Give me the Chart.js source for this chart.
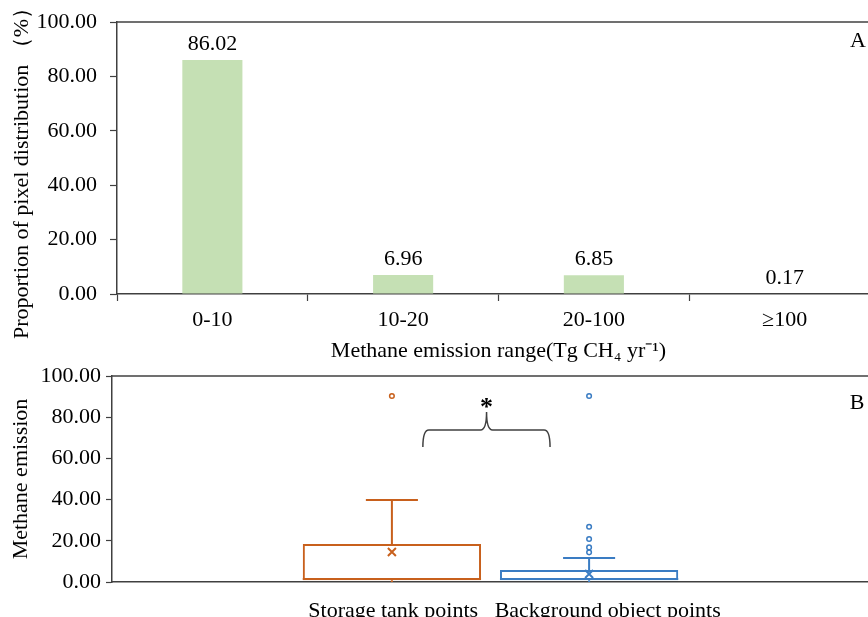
<!DOCTYPE html>
<html>
<head>
<meta charset="utf-8">
<script src="https://cdn.jsdelivr.net/npm/chart.js@4.4.1/dist/chart.umd.min.js"></script>
<style>
  html, body { margin: 0; padding: 0; background: #fff; overflow: hidden; width: 868px; height: 617px; }
  #wrapA { position: absolute; left: 0; top: 0; }
  #wrapB { position: absolute; left: 0; top: 362px; }
</style>
</head>
<body>
<div id="wrapA"><canvas id="chartA" width="881" height="364" style="width:881px;height:364px"></canvas></div>
<div id="wrapB"><canvas id="chartB" width="870" height="255" style="width:870px;height:255px"></canvas></div>
<script>
// panel A: share of pixels per emission range
const rangeLabels = ['0-10', '10-20', '20-100', '≥100'];
const pixelShare = [86.02, 6.96, 6.85, 0.17];

// panel B: box plot summaries
const groupNames = ['Storage tank points', 'Background object points'];
const whiskerLow = [0, 0];
const boxQ1 = [0.8, 0.8];
const boxMedian = [1.5, 1.5];
const boxQ3 = [18.4, 5.8];
const whiskerHigh = [39.8, 11.7];
const boxMean = [14.6, 3.9];
const outliers = [[90.3], [90.3, 26.8, 20.9, 16.8, 14.4]];
const boxColors = ['#c8601c', '#3a7cc3'];

const SERIF = '"Liberation Serif", "Times New Roman", serif';
const AXIS = '#404040';
Chart.defaults.font.family = SERIF;
Chart.defaults.color = '#000';

const frameTop = {
  id: 'frameTop',
  afterDraw(chart) {
    const { ctx, chartArea: a } = chart;
    ctx.save();
    ctx.strokeStyle = AXIS;
    ctx.lineWidth = 1.5;
    ctx.beginPath();
    ctx.moveTo(a.left, a.top);
    ctx.lineTo(a.right, a.top);
    ctx.stroke();
    ctx.restore();
  }
};

const panelLetter = (txt, x, y) => ({
  id: 'panel' + txt,
  afterDraw(chart) {
    const ctx = chart.ctx;
    ctx.save();
    ctx.font = '22px ' + SERIF;
    ctx.fillStyle = '#000';
    ctx.textAlign = 'center';
    ctx.textBaseline = 'middle';
    ctx.fillText(txt, x, y);
    ctx.restore();
  }
});

const barValues = {
  id: 'barValues',
  afterDatasetsDraw(chart) {
    const ctx = chart.ctx;
    ctx.save();
    ctx.font = '22px ' + SERIF;
    ctx.fillStyle = '#000';
    ctx.textAlign = 'center';
    ctx.textBaseline = 'alphabetic';
    chart.getDatasetMeta(0).data.forEach((bar, i) => {
      ctx.fillText(pixelShare[i].toFixed(2), bar.x, bar.y - 10);
    });
    ctx.restore();
  }
};

const yTitleA = {
  id: 'yTitleA',
  afterDraw(chart) {
    const ctx = chart.ctx;
    ctx.save();
    ctx.translate(22, 168);
    ctx.rotate(-Math.PI / 2);
    ctx.font = '22px ' + SERIF;
    ctx.fillStyle = '#000';
    ctx.textAlign = 'center';
    ctx.textBaseline = 'middle';
    ctx.fillText('Proportion of pixel distribution （%）', 0, 0);
    ctx.restore();
  }
};

// keep the tick padding from pushing the plot top down
const noEdgePad = s => { s.paddingTop = 0; s.paddingBottom = 0; };

new Chart(document.getElementById('chartA'), {
  type: 'bar',
  data: {
    labels: rangeLabels,
    datasets: [{ data: pixelShare, backgroundColor: '#c5e0b4', barPercentage: 0.315, categoryPercentage: 1 }]
  },
  options: {
    responsive: false, animation: false,
    layout: { padding: { top: 22, right: 1, left: 0, bottom: 0 } },
    plugins: { legend: { display: false }, tooltip: { enabled: false } },
    scales: {
      x: {
        grid: { offset: true, drawOnChartArea: false, tickLength: 7, color: AXIS, tickWidth: 1.2 },
        border: { color: AXIS, width: 1.5 },
        ticks: { font: { size: 22 }, padding: 6, color: '#000' },
        title: { display: true, text: 'Methane emission range(Tg CH₄ yr⁻¹)', font: { size: 22 }, padding: 0, color: '#000' },
        afterFit: s => { s.height = 70; }
      },
      y: {
        min: 0, max: 100,
        ticks: { stepSize: 20, callback: v => v.toFixed(2), font: { size: 22 }, padding: 13, color: '#000' },
        grid: { drawOnChartArea: false, tickLength: 7, color: AXIS, tickWidth: 1.2 },
        border: { color: AXIS, width: 1.5 },
        afterFit: s => { s.width = 117; noEdgePad(s); }
      }
    }
  },
  plugins: [frameTop, barValues, yTitleA, panelLetter('A', 858, 41)]
});

const boxExtras = {
  id: 'boxExtras',
  afterDatasetsDraw(chart) {
    const { ctx } = chart;
    const y = chart.scales.y;
    const centers = [];
    chart.data.datasets.forEach((ds, i) => {
      const bar = chart.getDatasetMeta(i).data[0];
      const cx = bar.x, half = bar.width / 2, cap = bar.width * 0.146;
      centers.push(cx);
      ctx.save();
      ctx.strokeStyle = boxColors[i];
      ctx.lineWidth = 2;
      ctx.beginPath();
      const yMed = y.getPixelForValue(boxMedian[i]);
      ctx.moveTo(cx - half, yMed); ctx.lineTo(cx + half, yMed);
      const yQ3 = y.getPixelForValue(boxQ3[i]), yHi = y.getPixelForValue(whiskerHigh[i]);
      ctx.moveTo(cx, yQ3); ctx.lineTo(cx, yHi);
      ctx.moveTo(cx - cap, yHi); ctx.lineTo(cx + cap, yHi);
      const yQ1 = y.getPixelForValue(boxQ1[i]), yLo = y.getPixelForValue(whiskerLow[i]);
      ctx.moveTo(cx, yQ1); ctx.lineTo(cx, yLo);
      // mean marker
      const yMean = y.getPixelForValue(boxMean[i]);
      ctx.moveTo(cx - 4, yMean - 4); ctx.lineTo(cx + 4, yMean + 4);
      ctx.moveTo(cx + 4, yMean - 4); ctx.lineTo(cx - 4, yMean + 4);
      ctx.stroke();
      ctx.lineWidth = 1.5;
      outliers[i].forEach(v => {
        ctx.beginPath();
        ctx.arc(cx, y.getPixelForValue(v), 2.3, 0, Math.PI * 2);
        ctx.stroke();
      });
      ctx.restore();
    });

    // significance bracket
    const d = centers[1] - centers[0];
    const xl = centers[0] + 0.157 * d, xr = centers[0] + 0.802 * d, xt = centers[0] + 0.48 * d;
    const yEnd = y.getPixelForValue(65.5), yMid = y.getPixelForValue(73.8), yTip = y.getPixelForValue(82.5);
    ctx.save();
    ctx.strokeStyle = '#404040';
    ctx.lineWidth = 1.5;
    ctx.beginPath();
    ctx.moveTo(xl, yEnd);
    ctx.quadraticCurveTo(xl, yMid, xl + 6, yMid);
    ctx.lineTo(xt - 6, yMid);
    ctx.quadraticCurveTo(xt, yMid, xt, yTip);
    ctx.quadraticCurveTo(xt, yMid, xt + 6, yMid);
    ctx.lineTo(xr - 6, yMid);
    ctx.quadraticCurveTo(xr, yMid, xr, yEnd);
    ctx.stroke();
    ctx.font = 'bold 26px ' + SERIF;
    ctx.fillStyle = '#000';
    ctx.textAlign = 'center';
    ctx.textBaseline = 'alphabetic';
    ctx.fillText('*', xt, y.getPixelForValue(88) + 14);
    ctx.restore();
  }
};

new Chart(document.getElementById('chartB'), {
  type: 'bar',
  data: {
    labels: [groupNames.join('   ')],
    datasets: groupNames.map((name, i) => ({
      label: name,
      data: [[boxQ1[i], boxQ3[i]]],
      backgroundColor: 'rgba(255,255,255,0)',
      borderColor: boxColors[i],
      borderWidth: 2,
      borderSkipped: false,
      barPercentage: 0.904,
      categoryPercentage: 0.521
    }))
  },
  options: {
    responsive: false, animation: false,
    layout: { padding: { top: 14, right: 1, left: 0, bottom: 0 } },
    plugins: { legend: { display: false }, tooltip: { enabled: false } },
    scales: {
      x: {
        grid: { display: false },
        border: { color: AXIS, width: 1.5 },
        ticks: { font: { size: 22 }, padding: 8, labelOffset: 24, color: '#000' },
        afterFit: s => { s.height = 35; }
      },
      y: {
        min: 0, max: 100,
        ticks: { stepSize: 20, callback: v => v.toFixed(2), font: { size: 22 }, padding: 5, color: '#000' },
        grid: { drawOnChartArea: false, tickLength: 6, color: AXIS, tickWidth: 1.2 },
        border: { color: AXIS, width: 1.5 },
        title: { display: true, text: 'Methane emission', font: { size: 22 }, padding: { top: 8 }, color: '#000' },
        afterFit: s => { s.width = 112; noEdgePad(s); }
      }
    }
  },
  plugins: [frameTop, boxExtras, panelLetter('B', 857, 41)]
});
</script>
</body>
</html>
